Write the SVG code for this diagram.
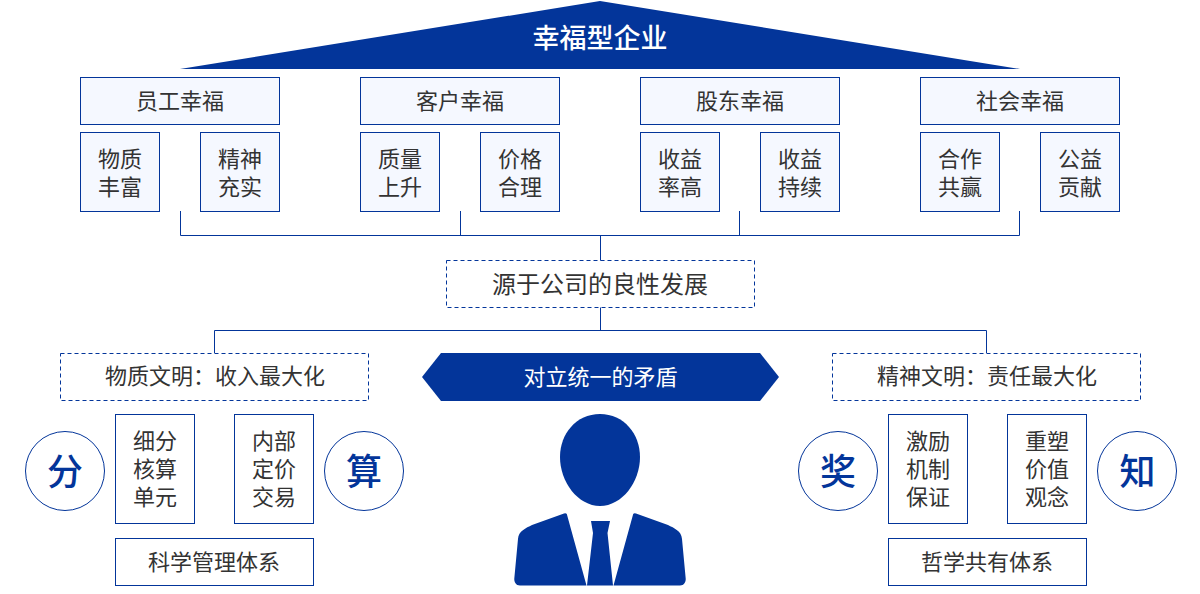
<svg xmlns="http://www.w3.org/2000/svg" width="1200" height="594" viewBox="0 0 1200 594">
<style>
text{font-family:"Liberation Sans","Noto Sans CJK SC",sans-serif;font-size:22px;fill:#333;text-anchor:middle}
.b{fill:#f5f8ff;stroke:#03359a;stroke-width:1}
.w{fill:#fff;stroke:#03359a;stroke-width:1}
.d{fill:#fff;stroke:#03359a;stroke-width:1;stroke-dasharray:4 3}
.f{fill:#03359a}
.c{fill:none;stroke:#03359a;stroke-width:1}
.big{font-size:36px;font-weight:500;fill:#03359a}
.wt{fill:#fff}
</style>
<g id="connectors">
<path class="c" d="M180.500 211V235.500H1019.500V211M460.500 211V235.500M739.500 211V235.500M600.500 235.500V261M600.500 307V330.500M214.500 353V330.500H986.500V353"/>
</g>
<g id="roof"><polygon class="f" points="600,1 1020,69 180,69"/><text class="wt" x="600" y="48" style="font-size:27px;font-weight:500">幸福型企业</text></g>
<g id="n1"><rect class="b" x="80.500" y="77.500" width="199" height="47"/><text x="180" y="109">员工幸福</text></g>
<g id="n1a"><rect class="b" x="80.500" y="132.500" width="79" height="79"/><text x="120" y="167">物质</text><text x="120" y="195">丰富</text></g>
<g id="n1b"><rect class="b" x="200.500" y="132.500" width="79" height="79"/><text x="240" y="167">精神</text><text x="240" y="195">充实</text></g>
<g id="n2"><rect class="b" x="360.500" y="77.500" width="199" height="47"/><text x="460" y="109">客户幸福</text></g>
<g id="n2a"><rect class="b" x="360.500" y="132.500" width="79" height="79"/><text x="400" y="167">质量</text><text x="400" y="195">上升</text></g>
<g id="n2b"><rect class="b" x="480.500" y="132.500" width="79" height="79"/><text x="520" y="167">价格</text><text x="520" y="195">合理</text></g>
<g id="n3"><rect class="b" x="640.500" y="77.500" width="199" height="47"/><text x="740" y="109">股东幸福</text></g>
<g id="n3a"><rect class="b" x="640.500" y="132.500" width="79" height="79"/><text x="680" y="167">收益</text><text x="680" y="195">率高</text></g>
<g id="n3b"><rect class="b" x="760.500" y="132.500" width="79" height="79"/><text x="800" y="167">收益</text><text x="800" y="195">持续</text></g>
<g id="n4"><rect class="b" x="920.500" y="77.500" width="199" height="47"/><text x="1020" y="109">社会幸福</text></g>
<g id="n4a"><rect class="b" x="920.500" y="132.500" width="79" height="79"/><text x="960" y="167">合作</text><text x="960" y="195">共赢</text></g>
<g id="n4b"><rect class="b" x="1040.500" y="132.500" width="79" height="79"/><text x="1080" y="167">公益</text><text x="1080" y="195">贡献</text></g>
<g id="source"><rect class="d" x="446.500" y="260.500" width="308" height="47"/><text x="600" y="293" style="font-size:24px">源于公司的良性发展</text></g>
<g id="left-title"><rect class="d" x="60.500" y="353.500" width="308" height="47"/><text x="215" y="384">物质文明：收入最大化</text></g>
<g id="contradiction"><polygon class="f" points="441,353 760,353 779,377 760,401 441,401 422,377"/><text class="wt" x="600.500" y="385">对立统一的矛盾</text></g>
<g id="right-title"><rect class="d" x="832.500" y="353.500" width="308" height="47"/><text x="987" y="384">精神文明：责任最大化</text></g>
<g id="fen"><circle class="w" cx="65" cy="471" r="39.500"/><text class="big" x="65" y="485">分</text></g>
<g id="l1"><rect class="w" x="115.500" y="414.500" width="79" height="109"/><text x="155" y="449">细分</text><text x="155" y="477">核算</text><text x="155" y="505">单元</text></g>
<g id="l2"><rect class="w" x="234.500" y="414.500" width="79" height="109"/><text x="274" y="449">内部</text><text x="274" y="477">定价</text><text x="274" y="505">交易</text></g>
<g id="suan"><circle class="w" cx="364" cy="471" r="39.500"/><text class="big" x="364" y="485">算</text></g>
<g id="l3"><rect class="w" x="115.500" y="538.500" width="198" height="47"/><text x="214" y="570">科学管理体系</text></g>
<g id="jiang"><circle class="w" cx="838" cy="471" r="39.500"/><text class="big" x="838" y="485">奖</text></g>
<g id="r1"><rect class="w" x="888.500" y="414.500" width="79" height="109"/><text x="928" y="449">激励</text><text x="928" y="477">机制</text><text x="928" y="505">保证</text></g>
<g id="r2"><rect class="w" x="1007.500" y="414.500" width="79" height="109"/><text x="1047" y="449">重塑</text><text x="1047" y="477">价值</text><text x="1047" y="505">观念</text></g>
<g id="zhi"><circle class="w" cx="1137" cy="471" r="39.500"/><text class="big" x="1137.500" y="485">知</text></g>
<g id="r3"><rect class="w" x="888.500" y="538.500" width="198" height="47"/><text x="987" y="570">哲学共有体系</text></g>
<g id="person" class="f">
<path d="M600 414C624 414 640 434 640 457C640 482 622 506 600 506C578 506 560 482 560 457C560 434 576 414 600 414Z"/>
<path d="M566.800 514L586.500 585.500H520C516 585.500 514 582 514.300 578.500L518 539C518.500 531 526 528 532 525L564 513.500Q566 513 566.800 514Z"/>
<path d="M633.200 514L613.500 585.500H680C684 585.500 686 582 685.700 578.500L682 539C681.500 531 674 528 668 525L636 513.500Q634 513 633.200 514Z"/>
<path d="M591 521H610L607.500 533L613 585.500H587L593 533Z"/>
</g>
</svg>
